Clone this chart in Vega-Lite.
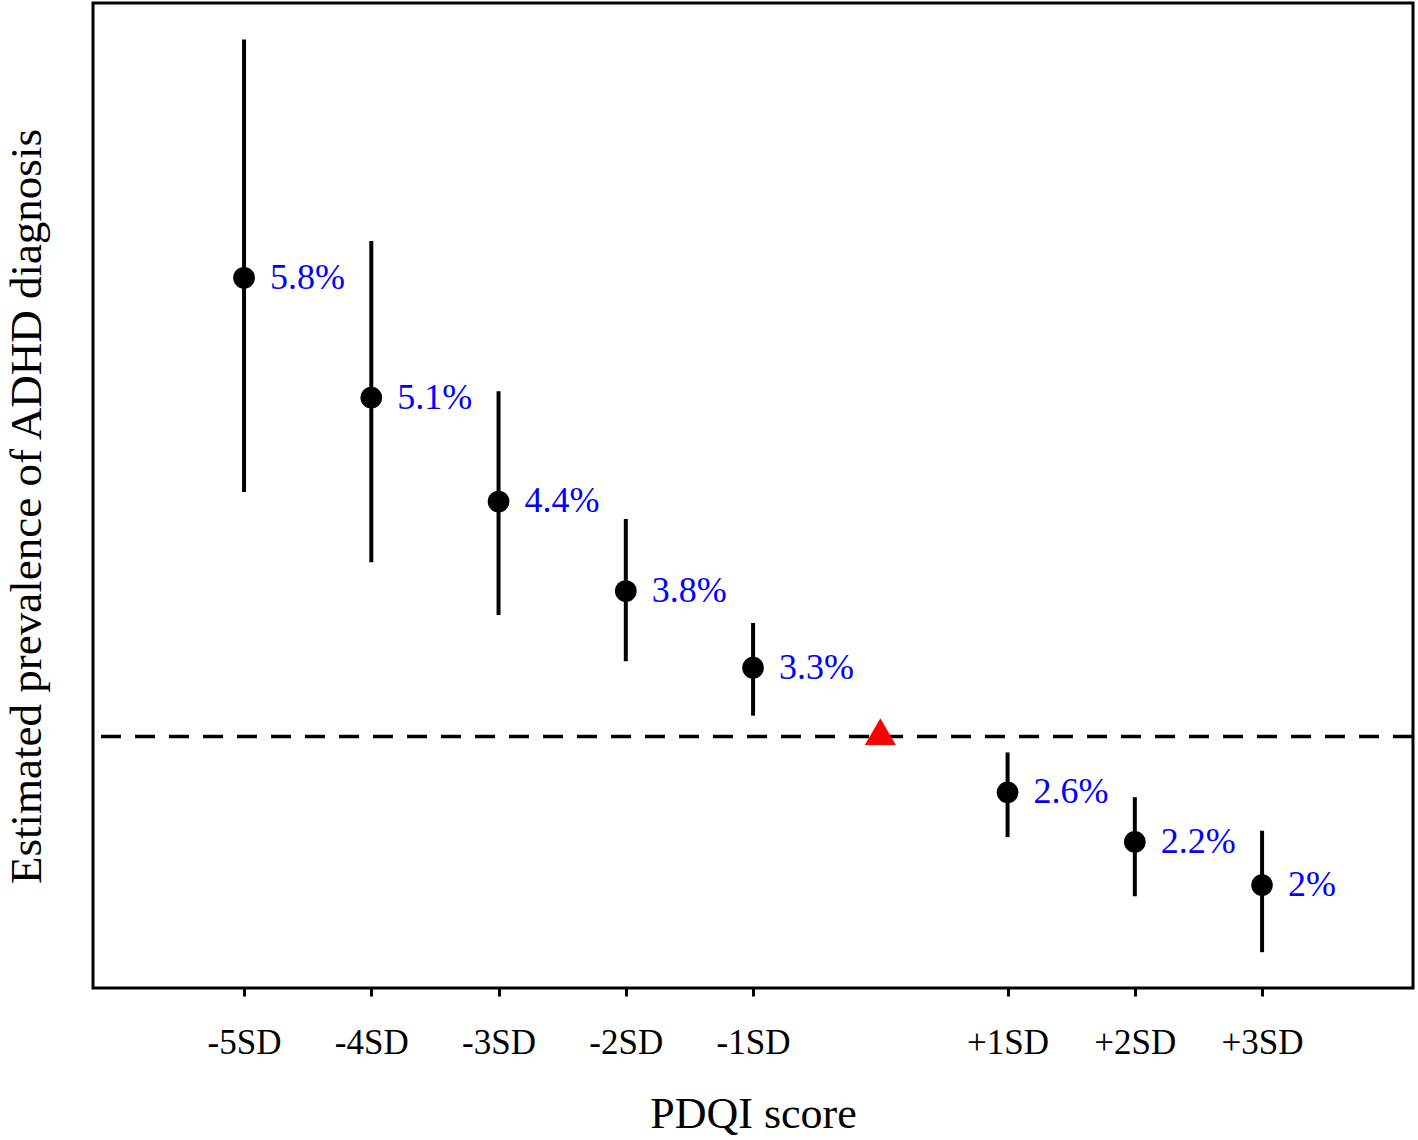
{
  "$schema": "https://vega.github.io/schema/vega-lite/v6.json",
  "width": 1320,
  "height": 985,
  "autosize": {"type": "none"},
  "padding": {"left": 93, "top": 3, "right": 5, "bottom": 152},
  "config": {
    "font": "Liberation Serif",
    "view": {"stroke": "black", "strokeWidth": 3},
    "axis": {"grid": false, "titleFontWeight": "normal", "titleColor": "black", "labelColor": "black"}
  },
  "datasets": {
    "est": [
      {"sd": -5, "est": 5.80, "lo": 4.46, "hi": 7.29, "label": "5.8%"},
      {"sd": -4, "est": 5.05, "lo": 4.02, "hi": 6.03, "label": "5.1%"},
      {"sd": -3, "est": 4.40, "lo": 3.69, "hi": 5.09, "label": "4.4%"},
      {"sd": -2, "est": 3.84, "lo": 3.40, "hi": 4.29, "label": "3.8%"},
      {"sd": -1, "est": 3.36, "lo": 3.06, "hi": 3.64, "label": "3.3%"},
      {"sd": 1, "est": 2.58, "lo": 2.30, "hi": 2.83, "label": "2.6%"},
      {"sd": 2, "est": 2.27, "lo": 1.93, "hi": 2.55, "label": "2.2%"},
      {"sd": 3, "est": 2.00, "lo": 1.58, "hi": 2.34, "label": "2%"}
    ],
    "mean": [{"sd": 0, "est": 2.96, "ref": 2.93}]
  },
  "layer": [
    {
      "data": {"name": "est"},
      "mark": {"type": "rule", "color": "black", "strokeWidth": 4},
      "encoding": {
        "x": {
          "field": "sd", "type": "quantitative",
          "scale": {"domain": [-6.187, 4.186], "nice": false, "zero": false},
          "axis": {
            "values": [-5, -4, -3, -2, -1, 1, 2, 3],
            "labelExpr": "datum.value > 0 ? '+' + datum.value + 'SD' : datum.value + 'SD'",
            "domain": false, "tickSize": 8, "tickWidth": 3, "tickColor": "black",
            "labelFontSize": 35, "labelPadding": 29, "labelFlush": false,
            "title": "PDQI score", "titleFontSize": 44, "titlePadding": 32
          }
        },
        "y": {
          "field": "lo", "type": "quantitative",
          "scale": {"domain": [1.356, 7.519], "nice": false, "zero": false},
          "axis": {
            "domain": false, "ticks": false, "labels": false,
            "title": "Estimated prevalence of ADHD diagnosis",
            "titleFontSize": 45, "titlePadding": 44, "titleY": 503
          }
        },
        "y2": {"field": "hi"}
      }
    },
    {
      "data": {"name": "mean"},
      "mark": {"type": "rule", "color": "black", "strokeWidth": 3.5, "strokeDash": [20, 14]},
      "encoding": {
        "y": {"field": "ref", "type": "quantitative", "title": "Estimated prevalence of ADHD diagnosis"}
      }
    },
    {
      "data": {"name": "est"},
      "mark": {"type": "point", "shape": "circle", "filled": true, "color": "black", "size": 470, "opacity": 1},
      "encoding": {
        "x": {"field": "sd", "type": "quantitative", "title": "PDQI score"},
        "y": {"field": "est", "type": "quantitative", "title": "Estimated prevalence of ADHD diagnosis"}
      }
    },
    {
      "data": {"name": "est"},
      "mark": {"type": "text", "align": "left", "baseline": "middle", "dx": 26, "fontSize": 36, "color": "#0000ff", "font": "Liberation Serif"},
      "encoding": {
        "x": {"field": "sd", "type": "quantitative", "title": "PDQI score"},
        "y": {"field": "est", "type": "quantitative", "title": "Estimated prevalence of ADHD diagnosis"},
        "text": {"field": "label"}
      }
    },
    {
      "data": {"name": "mean"},
      "mark": {"type": "point", "shape": "triangle-up", "filled": true, "color": "#ff0000", "size": 961, "opacity": 1},
      "encoding": {
        "x": {"field": "sd", "type": "quantitative", "title": "PDQI score"},
        "y": {"field": "est", "type": "quantitative", "title": "Estimated prevalence of ADHD diagnosis"}
      }
    }
  ]
}
